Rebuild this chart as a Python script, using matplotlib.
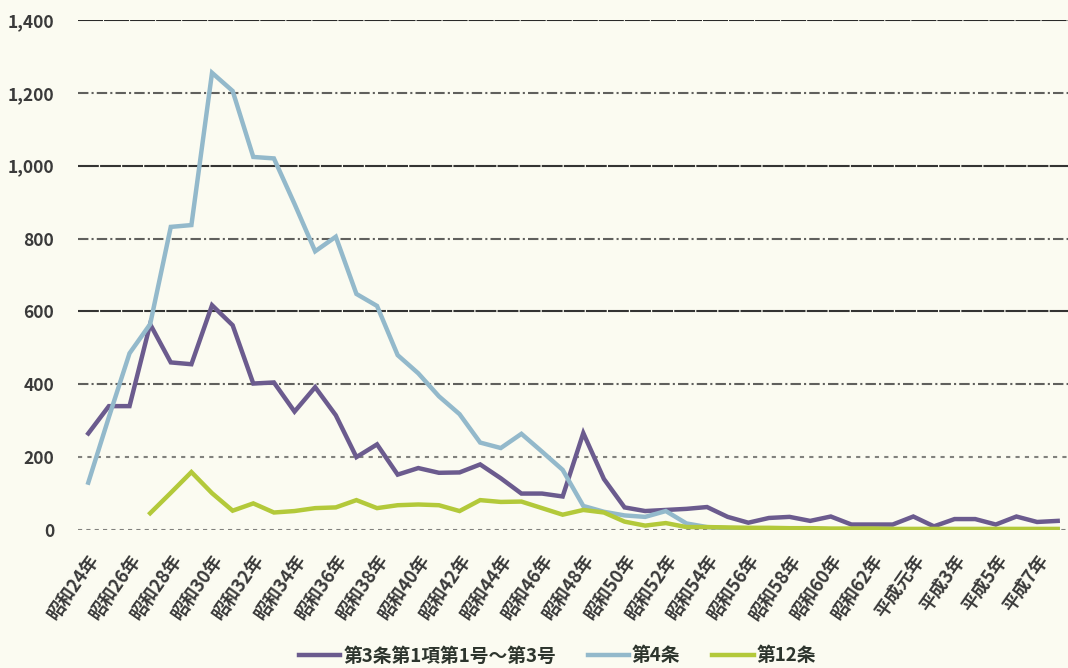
import matplotlib
matplotlib.use("Agg")
import numpy as np
import matplotlib.pyplot as plt
import matplotlib.transforms as mtransforms
from matplotlib.ticker import FuncFormatter

plt.rcParams["font.family"] = ["Noto Sans CJK JP", "DejaVu Sans"]

# 1949 (昭和24年) .. 1996 (平成8年)
years = list(range(1949, 1997))


def era_label(y):
    if y < 1989:
        return f"昭和{y - 1925}年"
    if y == 1989:
        return "平成元年"
    return f"平成{y - 1988}年"


labels = [era_label(y) for y in years]

art3 = [265, 340, 340, 565, 460, 455, 617, 562, 402, 405,
        325, 392, 315, 200, 235, 152, 170, 157, 158, 180,
        142, 100, 100, 92, 266, 140, 62, 52, 55, 58,
        63, 36, 20, 33, 36, 25, 37, 15, 15, 15,
        37, 10, 30, 30, 15, 37, 22, 25]

art4 = [130, 310, 485, 565, 832, 837, 1255, 1205, 1024, 1020,
        895, 765, 805, 648, 615, 480, 430, 367, 318, 240,
        225, 264, 215, 165, 66, 50, 40, 36, 52, 18,
        8, 5, 5, 4, 3, 3, 2, 2, 2, 2,
        1, 1, 1, 1, 1, 1, 1, 1]

art12 = [None, None, None, 46, 102, 159, 101, 53, 73, 48,
         52, 60, 62, 82, 60, 68, 70, 68, 52, 82,
         77, 78, 60, 42, 55, 48, 23, 12, 19, 8,
         8, 7, 6, 6, 5, 5, 4, 4, 4, 3,
         3, 3, 3, 3, 3, 3, 3, 3]

series_names = ["第3条第1項第1号～第3号", "第4条", "第12条"]
colors = ["#6b5b8e", "#93b9cb", "#b3c93a"]

bg = "#fbfbf1"
fig = plt.figure(figsize=(10.68, 6.68), dpi=100, facecolor=bg)
ax = fig.add_axes([0.073, 0.2066, 0.927, 0.7635], facecolor=bg)

x = np.arange(len(years))
a12 = np.array([np.nan if v is None else v for v in art12], dtype=float)
for vals, c, name in zip([art3, art4, a12], colors, series_names):
    ax.plot(x, vals, color=c, lw=3.2, label=name, solid_joinstyle="miter", zorder=3)

ax.set_xlim(-0.5, len(years) - 0.5)
ax.set_ylim(0, 1400)
yt = np.arange(0, 1401, 200)
ax.set_yticks(yt)
ax.yaxis.set_major_formatter(FuncFormatter(lambda v, p: f"{int(v):,}"))

# scanned-looking gridlines: some solid, some broken
grid_styles = {
    0: (0, (2, 2)), 200: (0, (2, 2.5)), 400: (0, (5, 1.5, 1, 1.5)),
    600: (0, (10, 0.6)), 800: (0, (5, 1.5, 1, 1.5)), 1000: (0, (10, 0.6)),
    1200: (0, (5, 1.5, 1, 1.5)), 1400: (0, (12, 0.5)),
}
grid_alpha = {0: 0.55, 200: 0.55, 400: 0.7, 600: 0.9, 800: 0.7,
              1000: 0.9, 1200: 0.7, 1400: 0.95}
for v in yt:
    ax.axhline(v, color="#1e1e1e", lw=1.5, ls=grid_styles[v],
               alpha=grid_alpha[v], zorder=1)

for s in ax.spines.values():
    s.set_visible(False)

ax.set_xticks(x[::2])
ax.set_xticklabels(labels[::2], rotation=55, ha="right", va="center",
                   rotation_mode="anchor", fontsize=13, fontweight="bold",
                   color="#3a3a3a")
ax.tick_params(axis="x", length=0, pad=19)
shift = mtransforms.ScaledTranslation(7 / 100, 0, fig.dpi_scale_trans)
for t in ax.get_xticklabels():
    t.set_transform(t.get_transform() + shift)

ax.tick_params(axis="y", length=0, pad=17, labelsize=12.5, labelcolor="#3a3a3a")
for t in ax.get_yticklabels():
    t.set_fontweight("bold")

leg = fig.legend(loc="center", bbox_to_anchor=(0.522, 0.018), ncol=3,
                 frameon=False, fontsize=13.5, handlelength=2.2,
                 handletextpad=0.15, columnspacing=1.7)
for t in leg.get_texts():
    t.set_color("#2d352d")
    t.set_fontweight("bold")

fig.savefig("out.png", dpi=100, facecolor=bg)
